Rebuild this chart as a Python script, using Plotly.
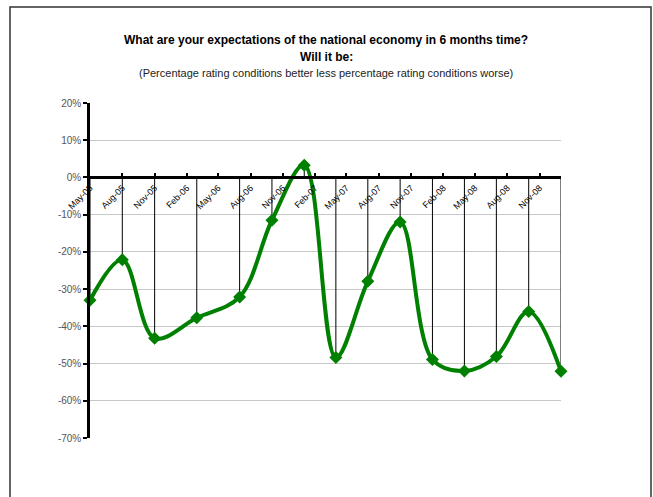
import plotly.graph_objects as go

# Data
dates = ["2005-05-01", "2005-08-01", "2005-11-01", "2006-03-01", "2006-07-01",
         "2006-10-01", "2007-01-01", "2007-04-01", "2007-07-01", "2007-10-01",
         "2008-01-01", "2008-04-01", "2008-07-01", "2008-10-01", "2009-01-01"]
values = [-33.0, -22.1, -43.2, -37.7, -32.1,
          -11.5, 3.3, -48.4, -27.9, -12.0,
          -48.9, -52.0, -48.1, -36.0, -52.1]
tick_dates = ["2005-05-01", "2005-08-01", "2005-11-01", "2006-02-01", "2006-05-01",
              "2006-08-01", "2006-11-01", "2007-02-01", "2007-05-01", "2007-08-01",
              "2007-11-01", "2008-02-01", "2008-05-01", "2008-08-01", "2008-11-01"]
tick_labels = ["May-05", "Aug-05", "Nov-05", "Feb-06", "May-06", "Aug-06", "Nov-06",
               "Feb-07", "May-07", "Aug-07", "Nov-07", "Feb-08", "May-08", "Aug-08", "Nov-08"]
y_tick_vals = [20, 10, 0, -10, -20, -30, -40, -50, -60, -70]
y_tick_labels = ["20%", "10%", "0%", "-10%", "-20%", "-30%", "-40%", "-50%", "-60%", "-70%"]

title_line1 = "What are your expectations of the national economy in 6 months time?"
title_line2 = "Will it be:"
subtitle = "(Percentage rating conditions better less percentage rating conditions worse)"

GREEN = "#008000"
FONT = "Liberation Sans, Arial, sans-serif"

# Drop lines from each point to the zero axis
drop_x, drop_y = [], []
for d, v in zip(dates, values):
    drop_x += [d, d, None]
    drop_y += [v, 0, None]

fig = go.Figure()
fig.add_trace(go.Scatter(x=drop_x, y=drop_y, mode="lines",
                         line=dict(color="black", width=1),
                         hoverinfo="skip", showlegend=False))
fig.add_trace(go.Scatter(x=dates, y=values, mode="lines+markers",
                         line=dict(color=GREEN, width=4, shape="spline", smoothing=1.0),
                         marker=dict(symbol="diamond", size=10, color=GREEN),
                         cliponaxis=False, showlegend=False))

ymin, ymax = -70, 20
W, H = 653, 497
# plot area in page pixels: x 90..561, y 103..438
PL, PR, PT, PB = 90, 561, 103, 438
L = PL
T = PT
R = W - PR
B = H - PB
plot_w = PR - PL
plot_h = PB - PT

def py(pix):
    return (PB - pix) / plot_h

def px(pix):
    return (pix - PL) / plot_w

fig.update_layout(
    width=W, height=H,
    margin=dict(l=L, r=R, t=T, b=B),
    paper_bgcolor="white", plot_bgcolor="white",
    font=dict(family=FONT, color="black"),
    xaxis=dict(
        type="date",
        range=[dates[0], dates[-1]],
        tickvals=tick_dates, ticktext=tick_labels,
        tickangle=-45,
        tickfont=dict(size=9, color="black"),
        showgrid=False, zeroline=False,
        showline=True, linecolor="black", linewidth=2.5,
        ticks="inside", ticklen=4, tickwidth=1.5, tickcolor="black",
        anchor="free", position=(0 - ymin) / (ymax - ymin),
    ),
    yaxis=dict(
        range=[ymin, ymax],
        tickvals=y_tick_vals, ticktext=y_tick_labels,
        tickfont=dict(size=10, color="#555555"),
        showgrid=True, gridcolor="#c8c8c8", gridwidth=1,
        zeroline=False,
        showline=True, linecolor="black", linewidth=2.5,
        ticks="outside", ticklen=4, tickwidth=2, tickcolor="black",
    ),
    annotations=[
        dict(text="<b>" + title_line1 + "</b>", xref="paper", yref="paper",
             x=px(326), y=py(40), showarrow=False, xanchor="center", yanchor="middle",
             font=dict(size=12, color="black")),
        dict(text="<b>" + title_line2 + "</b>", xref="paper", yref="paper",
             x=px(326), y=py(57), showarrow=False, xanchor="center", yanchor="middle",
             font=dict(size=12, color="black")),
        dict(text=subtitle, xref="paper", yref="paper",
             x=px(326), y=py(73), showarrow=False, xanchor="center", yanchor="middle",
             font=dict(size=11, color="#222222")),
    ],
    shapes=[
        dict(type="rect", xref="paper", yref="paper",
             x0=px(10), x1=px(651), y0=py(520), y1=py(7),
             line=dict(color="#333333", width=1.5), fillcolor="rgba(0,0,0,0)"),
    ],
)

fig.write_html(
    "out.html",
    config={"displayModeBar": False},
    post_script="document.body.style.margin='0';document.body.style.overflow='hidden';",
)
